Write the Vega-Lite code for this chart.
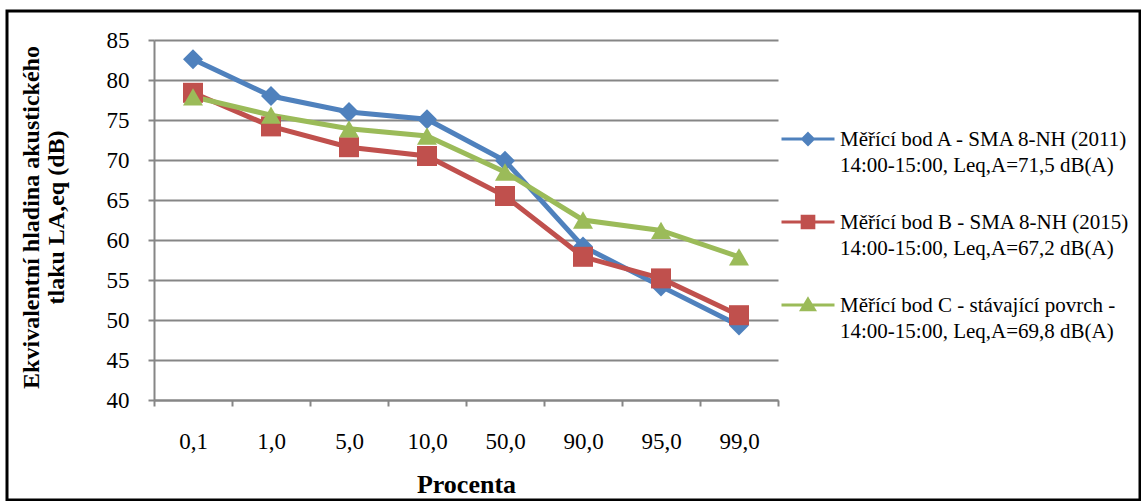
{
  "$schema": "https://vega.github.io/schema/vega-lite/v6.json",
  "autosize": {"type": "none"},
  "width": 1133,
  "height": 489,
  "padding": {"left": 7, "top": 11, "right": 1, "bottom": 1},
  "background": "white",
  "config": {
    "view": {"stroke": "black", "strokeWidth": 3, "fill": "white"},
    "font": "Liberation Serif"
  },
  "data": {
    "values": [
      {"p": "0,1", "s": "Měřící bod A - SMA 8-NH (2011)|14:00-15:00, Leq,A=71,5 dB(A)", "v": 82.6},
      {"p": "1,0", "s": "Měřící bod A - SMA 8-NH (2011)|14:00-15:00, Leq,A=71,5 dB(A)", "v": 78.0},
      {"p": "5,0", "s": "Měřící bod A - SMA 8-NH (2011)|14:00-15:00, Leq,A=71,5 dB(A)", "v": 76.0},
      {"p": "10,0", "s": "Měřící bod A - SMA 8-NH (2011)|14:00-15:00, Leq,A=71,5 dB(A)", "v": 75.1},
      {"p": "50,0", "s": "Měřící bod A - SMA 8-NH (2011)|14:00-15:00, Leq,A=71,5 dB(A)", "v": 69.9},
      {"p": "90,0", "s": "Měřící bod A - SMA 8-NH (2011)|14:00-15:00, Leq,A=71,5 dB(A)", "v": 59.2},
      {"p": "95,0", "s": "Měřící bod A - SMA 8-NH (2011)|14:00-15:00, Leq,A=71,5 dB(A)", "v": 54.2},
      {"p": "99,0", "s": "Měřící bod A - SMA 8-NH (2011)|14:00-15:00, Leq,A=71,5 dB(A)", "v": 49.3},
      {"p": "0,1", "s": "Měřící bod B - SMA 8-NH (2015)|14:00-15:00, Leq,A=67,2 dB(A)", "v": 78.4},
      {"p": "1,0", "s": "Měřící bod B - SMA 8-NH (2015)|14:00-15:00, Leq,A=67,2 dB(A)", "v": 74.2},
      {"p": "5,0", "s": "Měřící bod B - SMA 8-NH (2015)|14:00-15:00, Leq,A=67,2 dB(A)", "v": 71.6},
      {"p": "10,0", "s": "Měřící bod B - SMA 8-NH (2015)|14:00-15:00, Leq,A=67,2 dB(A)", "v": 70.5},
      {"p": "50,0", "s": "Měřící bod B - SMA 8-NH (2015)|14:00-15:00, Leq,A=67,2 dB(A)", "v": 65.5},
      {"p": "90,0", "s": "Měřící bod B - SMA 8-NH (2015)|14:00-15:00, Leq,A=67,2 dB(A)", "v": 57.9},
      {"p": "95,0", "s": "Měřící bod B - SMA 8-NH (2015)|14:00-15:00, Leq,A=67,2 dB(A)", "v": 55.2},
      {"p": "99,0", "s": "Měřící bod B - SMA 8-NH (2015)|14:00-15:00, Leq,A=67,2 dB(A)", "v": 50.6},
      {"p": "0,1", "s": "Měřící bod C - stávající povrch -|14:00-15:00, Leq,A=69,8 dB(A)", "v": 77.9},
      {"p": "1,0", "s": "Měřící bod C - stávající povrch -|14:00-15:00, Leq,A=69,8 dB(A)", "v": 75.6},
      {"p": "5,0", "s": "Měřící bod C - stávající povrch -|14:00-15:00, Leq,A=69,8 dB(A)", "v": 73.9},
      {"p": "10,0", "s": "Měřící bod C - stávající povrch -|14:00-15:00, Leq,A=69,8 dB(A)", "v": 73.0},
      {"p": "50,0", "s": "Měřící bod C - stávající povrch -|14:00-15:00, Leq,A=69,8 dB(A)", "v": 68.5},
      {"p": "90,0", "s": "Měřící bod C - stávající povrch -|14:00-15:00, Leq,A=69,8 dB(A)", "v": 62.5},
      {"p": "95,0", "s": "Měřící bod C - stávající povrch -|14:00-15:00, Leq,A=69,8 dB(A)", "v": 61.2},
      {"p": "99,0", "s": "Měřící bod C - stávající povrch -|14:00-15:00, Leq,A=69,8 dB(A)", "v": 57.9}
    ]
  },
  "encoding": {
    "x": {
      "field": "p",
      "type": "ordinal",
      "sort": ["0,1", "1,0", "5,0", "10,0", "50,0", "90,0", "95,0", "99,0"],
      "scale": {"type": "band", "range": [147, 771], "paddingInner": 0, "paddingOuter": 0},
      "axis": {
        "orient": "bottom",
        "offset": -100,
        "tickBand": "extent",
        "labelAngle": 0,
        "labelFont": "Liberation Serif",
        "labelFontSize": 23,
        "labelColor": "black",
        "labelPadding": 24,
        "tickSize": 6,
        "tickColor": "#868686",
        "tickWidth": 2,
        "domainColor": "#868686",
        "domainWidth": 2,
        "grid": false,
        "title": "Procenta",
        "titleFont": "Liberation Serif",
        "titleFontSize": 26,
        "titleFontWeight": "bold",
        "titleColor": "black",
        "titleX": 459,
        "titleY": 92,
        "titleAlign": "center",
        "titleBaseline": "alphabetic"
      }
    },
    "y": {
      "field": "v",
      "type": "quantitative",
      "scale": {"domain": [40, 85], "range": [389, 29], "nice": false, "zero": false},
      "axis": {
        "orient": "left",
        "offset": -147,
        "values": [40, 45, 50, 55, 60, 65, 70, 75, 80, 85],
        "labelFont": "Liberation Serif",
        "labelFontSize": 23,
        "labelColor": "black",
        "labelPadding": 19,
        "tickSize": 6,
        "tickColor": "#868686",
        "tickWidth": 2,
        "domainColor": "#868686",
        "domainWidth": 2,
        "grid": true,
        "gridColor": "#868686",
        "gridWidth": 2,
        "title": ["Ekvivalentní hladina akustického", "tlaku LA,eq (dB)"],
        "titleFont": "Liberation Serif",
        "titleFontSize": 24,
        "titleFontWeight": "bold",
        "titleColor": "black",
        "titleLineHeight": 25,
        "titleAngle": -90,
        "titleAlign": "center",
        "titleBaseline": "middle",
        "titleX": -123,
        "titleY": 206
      }
    },
    "color": {
      "field": "s",
      "type": "nominal",
      "scale": {"range": ["#4F81BD", "#C0504D", "#9BBB59"]},
      "legend": {
        "orient": "none",
        "legendX": 773,
        "legendY": 100,
        "title": null,
        "padding": 0,
        "labelExpr": "split(datum.label, '|')",
        "labelFont": "Liberation Serif",
        "labelFontSize": 21,
        "labelColor": "black",
        "labelLimit": 0,
        "labelOffset": 4,
        "labelBaseline": "alphabetic",
        "symbolSize": 2809,
        "symbolStrokeWidth": 3,
        "rowPadding": 18,
        "encode": {
          "symbols": {
            "update": {
              "shape": {"signal": "indexof(datum.value, 'bod A') >= 0 ? 'M-1,0H1M0,-0.2L0.2,0L0,0.2L-0.2,0Z' : indexof(datum.value, 'bod B') >= 0 ? 'M-1,0H1M-0.22,-0.22H0.22V0.22H-0.22Z' : 'M-1,0H1M0,-0.22L0.24,0.18H-0.24Z'"},
              "fill": {"scale": "color", "field": "value"},
              "stroke": {"scale": "color", "field": "value"},
              "strokeWidth": {"value": 3}
            }
          },
          "labels": {
            "update": {
              "dy": {"value": 7},
              "lineHeight": {"value": 26}
            }
          }
        }
      }
    }
  },
  "layer": [
    {"mark": {"type": "line", "strokeWidth": 5}},
    {
      "mark": {"type": "point", "filled": true, "opacity": 1, "size": 400},
      "encoding": {
        "shape": {
          "field": "s",
          "type": "nominal",
          "scale": {"range": ["diamond", "square", "triangle-up"]},
          "legend": null
        }
      }
    }
  ]
}
